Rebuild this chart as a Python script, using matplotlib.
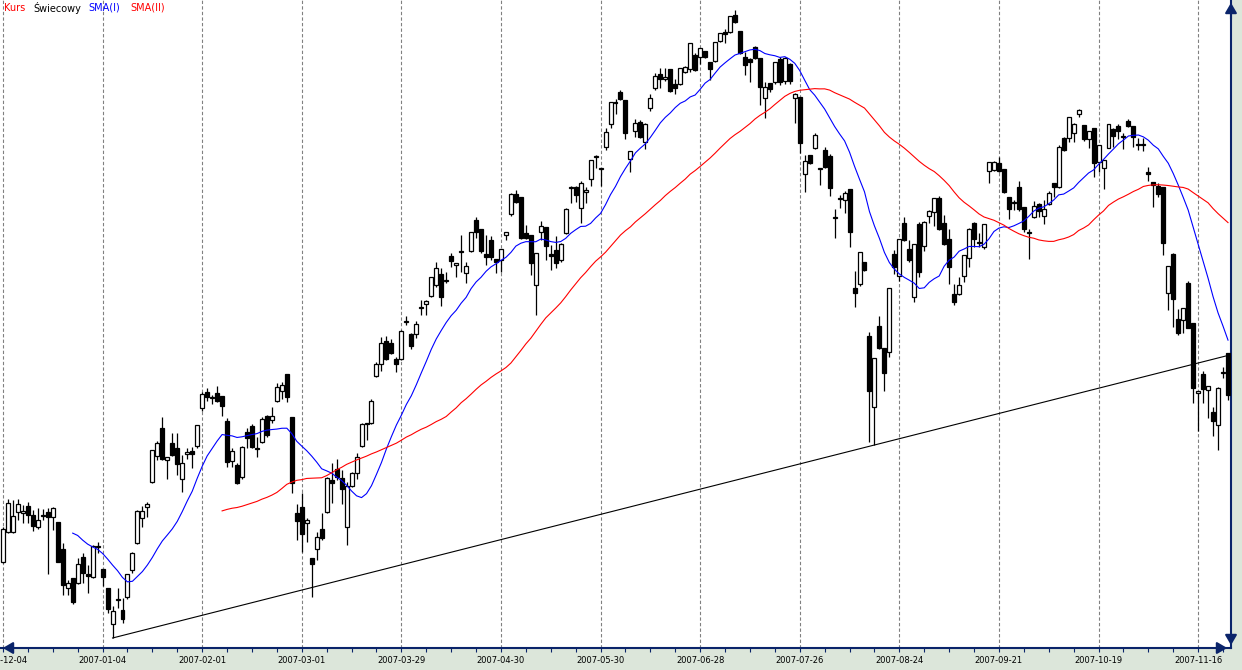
import numpy as np
import pandas as pd
import matplotlib
matplotlib.use("Agg")
import matplotlib.pyplot as plt

# daily candles (no price scale is shown, so arbitrary units)
opens = [88, 118, 118, 138, 137, 144, 135, 123, 134, 138,
         133, 128, 101, 62, 72, 67, 93, 76, 73, 103,
         81, 62, 26, 50, 40, 53, 80, 107, 132, 143,
         168, 194, 222, 190, 207, 202, 171, 196, 199, 204,
         242, 258, 252, 257, 254, 229, 189, 185, 173, 218,
         224, 202, 208, 234, 230, 249, 259, 276, 233, 137,
         143, 127, 92, 101, 121, 138, 170, 181, 172, 123,
         164, 177, 204, 227, 227, 274, 286, 309, 307, 291,
         291, 328, 316, 316, 342, 346, 354, 365, 376, 369,
         394, 385, 398, 377, 399, 430, 421, 396, 410, 391,
         390, 415, 436, 456, 453, 417, 415, 365, 418, 423,
         396, 400, 390, 417, 462, 463, 442, 458, 471, 493,
         481, 503, 526, 548, 558, 550, 491, 519, 528, 508,
         542, 562, 576, 571, 581, 566, 566, 578, 581, 595,
         593, 599, 588, 589, 609, 618, 618, 635, 619, 593,
         591, 603, 592, 552, 567, 568, 591, 569, 586, 552,
         553, 476, 495, 502, 481, 500, 494, 432, 451, 450,
         461, 362, 366, 388, 314, 243, 324, 302, 298, 396,
         374, 427, 401, 353, 426, 404, 434, 438, 452, 427,
         411, 356, 356, 374, 392, 427, 407, 403, 479, 480,
         487, 481, 453, 447, 463, 443, 417, 433, 446, 434,
         446, 467, 463, 512, 512, 517, 536, 525, 511, 522,
         488, 482, 502, 521, 524, 513, 529, 524, 505, 505,
         478, 468, 464, 463, 357, 396, 331, 330, 367, 327,
         257, 276, 260, 238, 225, 277, 297]
highs = [123, 151, 150, 151, 145, 148, 140, 142, 141, 142,
         143, 128, 107, 70, 72, 92, 97, 85, 105, 108,
         81, 62, 44, 62, 52, 76, 98, 140, 144, 148,
         200, 209, 233, 193, 217, 217, 195, 202, 203, 225,
         258, 262, 255, 264, 254, 232, 202, 187, 204, 222,
         226, 213, 233, 235, 243, 267, 268, 276, 233, 146,
         157, 132, 92, 118, 137, 173, 187, 191, 180, 168,
         178, 197, 227, 227, 251, 288, 313, 314, 311, 293,
         320, 334, 317, 329, 350, 350, 373, 388, 382, 378,
         397, 387, 415, 388, 418, 433, 421, 415, 414, 391,
         401, 418, 457, 460, 453, 425, 415, 397, 429, 423,
         405, 414, 407, 442, 464, 464, 469, 463, 490, 495,
         481, 522, 548, 551, 560, 550, 499, 531, 530, 527,
         556, 577, 582, 582, 581, 571, 582, 584, 607, 597,
         602, 599, 588, 608, 617, 621, 634, 640, 619, 598,
         592, 604, 592, 568, 567, 588, 593, 593, 587, 557,
         553, 495, 495, 517, 482, 503, 496, 441, 455, 459,
         461, 379, 398, 388, 318, 292, 334, 302, 362, 400,
         411, 433, 410, 406, 428, 429, 440, 452, 454, 435,
         421, 366, 373, 395, 422, 428, 417, 426, 488, 489,
         493, 481, 453, 450, 469, 443, 421, 449, 447, 450,
         459, 467, 505, 513, 533, 527, 541, 525, 519, 522,
         505, 490, 526, 522, 526, 517, 531, 524, 512, 512,
         483, 468, 467, 463, 384, 397, 341, 342, 369, 327,
         259, 279, 264, 243, 263, 283, 297]
lows = [87, 117, 117, 130, 127, 127, 119, 121, 130, 76,
        120, 88, 55, 55, 46, 66, 67, 57, 72, 97,
        64, 37, 12, 42, 27, 51, 77, 106, 123, 133,
        167, 190, 190, 171, 194, 175, 158, 191, 182, 202,
        239, 249, 246, 248, 234, 183, 183, 166, 171, 202,
        202, 193, 207, 213, 227, 248, 251, 248, 157, 110,
        98, 108, 53, 90, 110, 137, 147, 170, 146, 105,
        163, 171, 203, 210, 226, 273, 279, 290, 296, 278,
        290, 325, 301, 312, 335, 335, 353, 363, 344, 367,
        383, 373, 378, 367, 398, 412, 397, 385, 390, 377,
        378, 410, 434, 447, 411, 411, 375, 335, 410, 390,
        380, 382, 388, 416, 447, 448, 427, 447, 464, 482,
        464, 500, 522, 536, 550, 511, 478, 513, 512, 501,
        539, 560, 562, 569, 558, 556, 565, 577, 578, 579,
        586, 592, 570, 588, 608, 607, 617, 627, 596, 575,
        568, 591, 545, 532, 558, 566, 565, 566, 566, 527,
        497, 458, 486, 501, 465, 482, 454, 412, 442, 437,
        403, 343, 364, 379, 208, 205, 301, 259, 293, 376,
        369, 409, 388, 348, 373, 399, 427, 424, 420, 405,
        366, 345, 355, 368, 383, 403, 403, 401, 467, 479,
        478, 457, 431, 440, 439, 418, 391, 432, 433, 426,
        445, 453, 462, 499, 508, 508, 533, 509, 502, 473,
        478, 461, 502, 503, 511, 501, 523, 503, 500, 499,
        469, 443, 453, 395, 340, 323, 315, 317, 322, 247,
        219, 247, 232, 214, 200, 272, 250]
closes = [121, 147, 134, 146, 139, 135, 124, 130, 134, 133,
          142, 88, 65, 67, 48, 86, 77, 74, 104, 103,
          73, 41, 39, 50, 31, 76, 97, 139, 139, 146,
          200, 207, 191, 193, 195, 186, 187, 198, 196, 225,
          256, 253, 252, 249, 244, 188, 199, 167, 203, 212,
          203, 201, 231, 215, 234, 263, 265, 253, 167, 129,
          116, 130, 86, 113, 112, 172, 167, 173, 161, 164,
          177, 193, 226, 226, 249, 286, 307, 291, 297, 286,
          319, 328, 304, 326, 342, 349, 373, 382, 353, 369,
          389, 387, 398, 384, 418, 418, 399, 393, 393, 388,
          401, 418, 456, 448, 412, 412, 387, 397, 424, 404,
          394, 387, 406, 441, 463, 455, 467, 460, 490, 493,
          481, 518, 548, 547, 551, 517, 499, 527, 513, 526,
          552, 574, 571, 573, 559, 562, 582, 583, 607, 580,
          602, 593, 581, 608, 617, 616, 634, 628, 597, 585,
          588, 592, 563, 563, 561, 588, 568, 592, 569, 556,
          507, 489, 487, 515, 481, 483, 462, 432, 451, 457,
          418, 357, 398, 380, 259, 292, 302, 277, 362, 383,
          411, 410, 390, 406, 378, 428, 439, 452, 421, 406,
          383, 348, 365, 395, 421, 411, 407, 426, 488, 488,
          479, 458, 441, 447, 441, 421, 417, 444, 439, 441,
          457, 463, 503, 500, 533, 526, 540, 511, 519, 487,
          505, 490, 526, 514, 519, 513, 524, 513, 505, 505,
          476, 465, 456, 407, 384, 351, 317, 342, 322, 262,
          259, 261, 264, 229, 262, 277, 255]

# every 20th session gets a date label
tick_dates = ["2006-12-04", "2007-01-04", "2007-02-01", "2007-03-01",
              "2007-03-29", "2007-04-30", "2007-05-30", "2007-06-28",
              "2007-07-26", "2007-08-24", "2007-09-21", "2007-10-19",
              "2007-11-16"]

sma_short = 15   # SMA(I)
sma_long = 45    # SMA(II)
trend_idx = [22, 175]   # trend line through the January and August lows

NAVY = "#0a246a"
W, H = 1242, 670
fig = plt.figure(figsize=(W / 100, H / 100), dpi=100, facecolor="#dce6da")
ax = fig.add_axes([0, 22 / H, 1231 / W, 648 / H])
ax.set_facecolor("white")

n = len(closes)
x = np.arange(n)
o = np.array(opens, dtype=float)
c = np.array(closes, dtype=float)
up = c >= o

ax.vlines(x, lows, highs, color="black", lw=0.9, zorder=2)
ax.bar(x, np.maximum(np.abs(c - o), 0.6), bottom=np.minimum(o, c), width=0.8,
       color=np.where(up, "white", "black"), edgecolor="black", linewidth=0.9, zorder=3)

s = pd.Series(c)
ax.plot(x, s.rolling(sma_short).mean(), color="#0000ff", lw=0.8, zorder=4)
ax.plot(x, s.rolling(sma_long).mean(), color="#ff0000", lw=0.8, zorder=4)

x_right = 246.6
i0, i1 = trend_idx
slope = (lows[i1] - lows[i0]) / (i1 - i0)
ax.plot([i0, x_right], [lows[i0], lows[i0] + slope * (x_right - i0)],
        color="black", lw=0.8, zorder=5)

ax.set_xlim(-0.6, x_right)
ax.set_ylim(2, 650)
ax.set_yticks([])
ax.set_xticks(range(0, n, 20))
ax.set_xticklabels(tick_dates, fontsize=6)
ax.set_xticks(range(0, n, 5), minor=True)
ax.tick_params(axis="x", which="both", direction="out", length=3, width=0.8,
               color=NAVY, pad=3)
ax.grid(axis="x", which="major", color="#808080", ls=(0, (3, 2)), lw=0.8)
for side in ["left", "top"]:
    ax.spines[side].set_visible(False)
for side in ["bottom", "right"]:
    ax.spines[side].set_color(NAVY)
    ax.spines[side].set_linewidth(1.5)

# little axis arrows (figure pixels, origin bottom-left)
arrow = dict(arrowstyle="-|>,head_width=0.35,head_length=0.6", color=NAVY, lw=1.5,
             mutation_scale=10)
for tip, tail in [((1231, 670), (1231, 648)), ((0, 22), (16, 22)),
                  ((1230, 22), (1214, 22)), ((1231, 22), (1231, 38))]:
    fig.add_artist(plt.matplotlib.patches.FancyArrowPatch(
        posA=tail, posB=tip, transform=None, **arrow))

# header legend
for xp, label, col in [(4, "Kurs", "#ff0000"), (33, "Świecowy", "black"),
                       (88, "SMA(I)", "#0000ff"), (130, "SMA(II)", "#ff0000")]:
    fig.text(xp / W, 1 - 8 / H, label, color=col, fontsize=7, va="center")

fig.savefig("out.png", dpi=100, facecolor=fig.get_facecolor())
